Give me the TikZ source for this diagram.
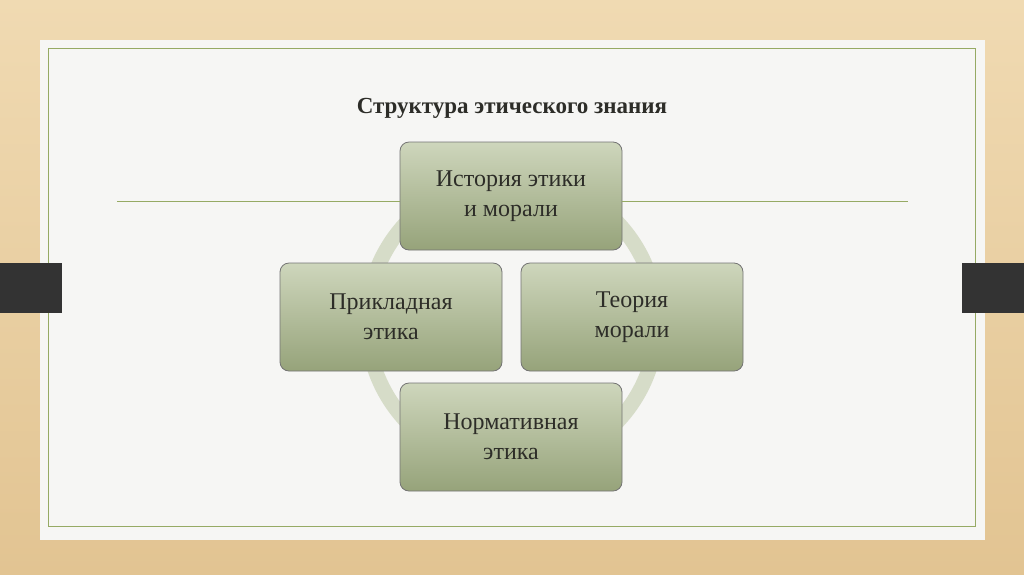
\documentclass[tikz,border=0pt]{standalone}
\usepackage{fontspec}
\setmainfont{Liberation Serif}
\usetikzlibrary{arrows.meta}
\definecolor{wood}{RGB}{226,196,146}
\definecolor{woodl}{RGB}{240,218,178}
\definecolor{paper}{RGB}{246,246,244}
\definecolor{frame}{RGB}{150,170,100}
\definecolor{ring}{RGB}{214,220,200}
\definecolor{boxtop}{RGB}{206,214,188}
\definecolor{boxbot}{RGB}{150,163,122}
\definecolor{txt}{RGB}{45,45,40}
\tikzset{
  cbox/.style={draw=black!55, line width=0.8pt, rounded corners=9pt, top color=boxtop, bottom color=boxbot,
    minimum width=222pt, minimum height=108pt, align=center, font=\fontsize{24}{30}\selectfont, text=txt, inner sep=0pt},
  tab/.style={fill=black!80, draw=none}
}
\begin{document}
\begin{tikzpicture}[x=1pt,y=-1pt]
\useasboundingbox (0,0) rectangle (1024,574);
\shade[top color=woodl, bottom color=wood] (0,0) rectangle (1024,574);
\fill[paper] (40,40) rectangle (985,540);
\draw[frame, line width=1pt] (48,48) rectangle (975,526);
\fill[tab] (0,263) rectangle (62,313);
\fill[tab] (962,263) rectangle (1024,313);
\node[font=\bfseries\fontsize{23}{27}\selectfont, text=txt] (title) at (512,108) {Структура этического знания};
\draw[ring, line width=15pt] (512,322) circle (145);
\node[cbox] (top) at (511,196) {История этики\\и морали};
\node[cbox] (left) at (391,317) {Прикладная\\этика};
\node[cbox] (right) at (632,317) {Теория\\морали};
\node[cbox] (bot) at (511,437) {Нормативная\\этика};
\coordinate (l1) at (117,201); \coordinate (r1) at (908,201);
\draw[frame, line width=1pt] (l1) -- (l1 -| top.west);
\draw[frame, line width=1pt] (r1 -| top.east) -- (r1);
\end{tikzpicture}
\end{document}
